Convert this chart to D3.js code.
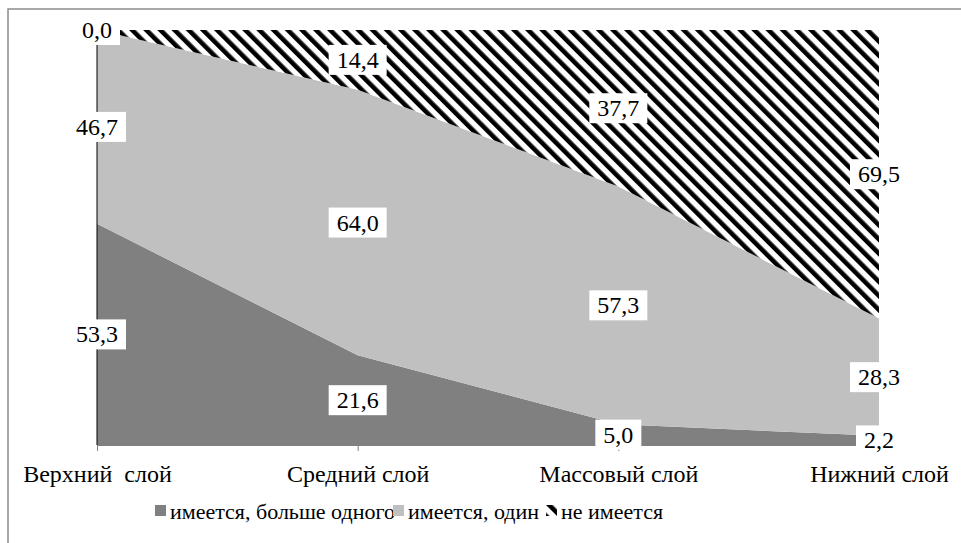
<!DOCTYPE html>
<html>
<head>
<meta charset="utf-8">
<script src="https://cdn.jsdelivr.net/npm/d3@7"></script>
<style>
  body { margin: 0; background: #fff; }
</style>
</head>
<body>
<svg id="chart" width="961" height="543"></svg>
<script>
const categories = ['Верхний  слой', 'Средний слой', 'Массовый слой', 'Нижний слой'];
const seriesNames = ['имеется, больше одного', 'имеется, один', 'не имеется'];
const moreThanOne = [53.3, 21.6, 5.0, 2.2];
const one = [46.7, 64.0, 57.3, 28.3];
const none = [0.0, 14.4, 37.7, 69.5];

const FONT = 'Liberation Serif';
const width = 961;
const height = 543;
const margin = { top: 30, right: 82, bottom: 98, left: 97 };

const svg = d3.select('#chart');

// outer frame (right and bottom edges fall outside the picture)
svg.append('rect')
  .attr('x', 8).attr('y', 9)
  .attr('width', 1000).attr('height', 1000)
  .attr('fill', 'none')
  .attr('stroke', '#8c8c8c')
  .attr('stroke-width', 1.5);

const defs = svg.append('defs');
defs.append('pattern')
  .attr('id', 'hatch')
  .attr('patternUnits', 'userSpaceOnUse')
  .attr('width', 10).attr('height', 10)
  .attr('patternTransform', 'rotate(-45)')
  .call(p => {
    p.append('rect').attr('width', 10).attr('height', 10).attr('fill', '#fff');
    p.append('rect').attr('width', 4.6).attr('height', 10).attr('fill', '#000');
  });

const fills = ['#808080', '#c0c0c0', 'url(#hatch)'];

const rows = categories.map((c, i) => ({
  cat: c,
  s0: moreThanOne[i],
  s1: one[i],
  s2: none[i]
}));

const layers = d3.stack().keys(['s0', 's1', 's2'])(rows);

const x = d3.scalePoint()
  .domain(categories)
  .range([margin.left, width - margin.right]);

const y = d3.scaleLinear()
  .domain([0, 100])
  .range([height - margin.bottom, margin.top]);

const area = d3.area()
  .x(d => x(d.data.cat))
  .y0(d => y(d[0]))
  .y1(d => y(d[1]));

svg.append('g')
  .selectAll('path')
  .data(layers)
  .enter()
  .append('path')
  .attr('d', area)
  .attr('fill', (d, i) => fills[i]);

// vertical axis line
svg.append('line')
  .attr('x1', margin.left).attr('x2', margin.left)
  .attr('y1', y(100)).attr('y2', y(0))
  .attr('stroke', '#000')
  .attr('stroke-width', 1);

// category axis
const xAxis = d3.axisBottom(x).tickSize(6).tickSizeOuter(0).tickPadding(14);
const gx = svg.append('g')
  .attr('transform', `translate(0, ${y(0)})`)
  .call(xAxis)
  .attr('font-family', FONT)
  .attr('font-size', 24);
gx.select('.domain').attr('stroke', '#808080');
gx.selectAll('.tick line').attr('stroke', '#808080');
gx.selectAll('.tick text')
  .attr('font-family', FONT)
  .attr('font-size', 24)
  .attr('xml:space', 'preserve')
  .style('white-space', 'pre')
  .attr('fill', '#000');

// data labels, white boxes in the middle of each band
const labelG = svg.append('g');
layers.forEach(layer => {
  layer.forEach(d => {
    const cx = x(d.data.cat);
    const cy = (y(d[0]) + y(d[1])) / 2;
    const txt = d3.format('.1f')(d[1] - d[0]).replace('.', ',');
    const g = labelG.append('g');
    const t = g.append('text')
      .attr('x', cx)
      .attr('y', cy + 8)
      .attr('text-anchor', 'middle')
      .attr('font-family', FONT)
      .attr('font-size', 24)
      .text(txt);
    const bb = t.node().getBBox();
    g.insert('rect', 'text')
      .attr('x', bb.x - 8)
      .attr('y', cy - 15)
      .attr('width', bb.width + 16)
      .attr('height', 30)
      .attr('fill', '#fff');
  });
});

// legend
const legend = svg.append('g')
  .attr('transform', 'translate(155, 505)');
const legendX = [0, 238, 391];
seriesNames.forEach((name, i) => {
  const item = legend.append('g').attr('transform', `translate(${legendX[i]}, 0)`);
  item.append('rect')
    .attr('width', 11).attr('height', 11)
    .attr('fill', fills[i]);
  item.append('text')
    .attr('x', 15)
    .attr('y', 14)
    .attr('font-family', FONT)
    .attr('font-size', 22)
    .text(name);
});
</script>
</body>
</html>
